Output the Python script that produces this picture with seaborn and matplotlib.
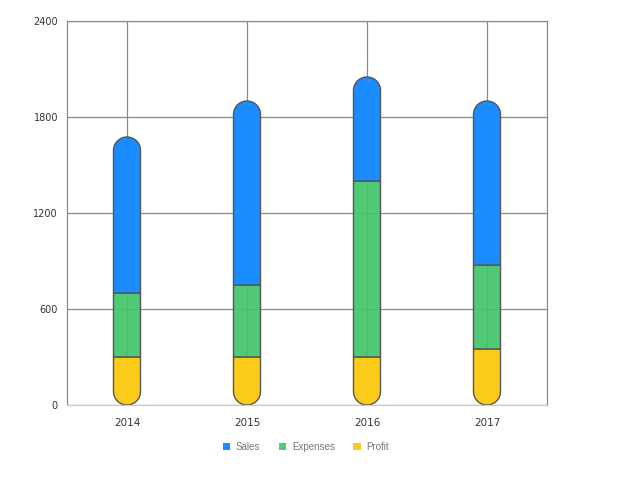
import numpy as np
import pandas as pd
import matplotlib
matplotlib.use("Agg")
import matplotlib.pyplot as plt
import seaborn as sns
from matplotlib.path import Path
from matplotlib.patches import PathPatch, Patch

years = ["2014", "2015", "2016", "2017"]
sales = [975, 1150, 650, 1025]
expenses = [400, 450, 1100, 525]
profit = [300, 300, 300, 350]
series_names = ["Sales", "Expenses", "Profit"]

colors = {"Sales": "#1a8cff", "Expenses": "#3fc468", "Profit": "#fcca18"}
alphas = {"Sales": 1.0, "Expenses": 0.9, "Profit": 1.0}
legend_colors = {"Sales": "#1a8cff", "Expenses": "#4dcb73", "Profit": "#fcca18"}
edge = "#555555"

sns.set_theme(style="white")
plt.rcParams["font.family"] = ["DejaVu Sans"]

fig = plt.figure(figsize=(6.18, 4.8), dpi=100)
ax = fig.add_axes([67 / 618, 1 - 405 / 480, 480 / 618, 384 / 480])

df = pd.DataFrame({"year": years, "Sales": sales, "Expenses": expenses, "Profit": profit})
bases = {
    "Profit": np.zeros(len(years)),
    "Expenses": np.array(profit, dtype=float),
    "Sales": np.array(profit, dtype=float) + np.array(expenses, dtype=float),
}

ax.set_xlim(-0.5, 3.5)
ax.set_ylim(0, 2400)

# (series, round top, round bottom)
layers = [("Profit", False, True), ("Expenses", False, False), ("Sales", True, False)]


def rounded_path(x0, y0, w, h, rx, ry, top, bottom):
    xc = x0 + w / 2
    verts = []
    if bottom:
        ang = np.linspace(np.pi, 2 * np.pi, 50)
        verts += list(zip(xc + rx * np.cos(ang), y0 + ry + ry * np.sin(ang)))
    else:
        verts += [(x0, y0), (x0 + w, y0)]
    if top:
        ang = np.linspace(0, np.pi, 50)
        verts += list(zip(xc + rx * np.cos(ang), y0 + h - ry + ry * np.sin(ang)))
    else:
        verts += [(x0 + w, y0 + h), (x0, y0 + h)]
    verts.append(verts[0])
    codes = [Path.MOVETO] + [Path.LINETO] * (len(verts) - 2) + [Path.CLOSEPOLY]
    return Path(verts, codes)


for i, (name, top, bottom) in enumerate(layers):
    n_before = len(ax.patches)
    sns.barplot(data=df, x="year", y=name, color=colors[name], saturation=1,
                width=0.225, edgecolor=edge, linewidth=1.0, ax=ax, errorbar=None)
    new = ax.patches[n_before:]
    ax.set_xlim(-0.5, 3.5)
    ax.set_ylim(0, 2400)
    p0 = ax.transData.transform((0, 0))
    p1 = ax.transData.transform((1, 1))
    sx, sy = p1[0] - p0[0], p1[1] - p0[1]
    for j, r in enumerate(list(new)):
        x0 = r.get_x()
        w, h = r.get_width(), r.get_height()
        y0 = bases[name][j]
        rx = w / 2
        ry = rx * sx / sy
        path = rounded_path(x0, y0, w, h, rx, ry, top, bottom)
        pp = PathPatch(path, edgecolor=edge, linewidth=1.0, zorder=2 + i)
        pp.set_facecolor(matplotlib.colors.to_rgba(colors[name], alphas[name]))
        pp.set_snap(False)
        r.remove()
        ax.add_patch(pp)

ax.set_xlim(-0.5, 3.5)
ax.set_ylim(0, 2400)
ax.set_yticks([0, 600, 1200, 1800, 2400])
ax.set_xlabel("")
ax.set_ylabel("")
ax.grid(True, axis="both", color="#8a8a8a", linewidth=0.9)
ax.set_axisbelow(True)
for s in ax.spines.values():
    s.set_color("#8a8a8a")
    s.set_linewidth(0.9)
ax.spines["bottom"].set_color("#cccccc")
ax.tick_params(axis="y", length=0, pad=6.5, labelsize=7, labelcolor="#333333")
ax.tick_params(axis="x", length=0, pad=9, labelsize=7.5, labelcolor="#333333")

handles = [Patch(facecolor=legend_colors[n], edgecolor="none", label=n) for n in series_names]
fig.legend(handles=handles, loc="center", bbox_to_anchor=(0.495, 0.069), ncol=3,
           frameon=False, handlelength=0.75, handleheight=0.75, handletextpad=0.6,
           columnspacing=1.9, prop={"family": "Liberation Sans", "size": 7},
           labelcolor="#777777")

fig.savefig("out.png", dpi=100, facecolor="white")
